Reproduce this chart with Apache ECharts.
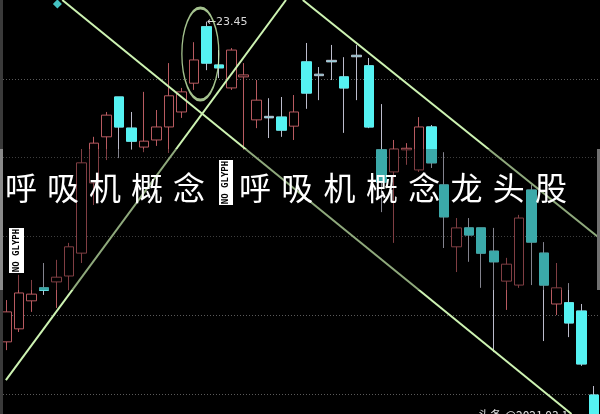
<!DOCTYPE html>
<html><head><meta charset="utf-8">
<script src="https://cdn.jsdelivr.net/npm/echarts@6/dist/echarts.min.js"></script>
<style>html,body{margin:0;padding:0;background:#000}#c{width:600px;height:414px}</style>
</head><body><div id="c"></div>
<script>
const categories = ['1','2','3','4','5','6','7','8','9','10','11','12','13','14','15','16','17','18','19','20','21','22','23','24','25','26','27','28','29','30','31','32','33','34','35','36','37','38','39','40','41','42','43','44','45','46','47','48'];
const opens  = [15.33,15.66,16.37,16.70,16.85,17.00,17.58,19.36,20.53,21.54,20.75,20.27,20.45,20.78,21.16,21.89,23.32,22.35,21.77,22.05,20.96,21.05,21.03,20.80,22.43,22.12,22.47,22.05,22.60,22.33,20.20,19.64,20.20,19.69,20.78,19.31,17.74,18.22,18.22,17.63,16.87,16.77,19.18,17.58,16.29,16.32,16.11,13.98];
const closes = [16.09,16.57,16.54,16.64,16.97,17.74,19.87,20.37,21.08,20.78,20.42,20.42,20.78,21.57,21.67,22.48,22.40,22.28,22.73,22.10,21.46,21.01,20.70,21.16,21.64,22.08,22.43,21.77,22.56,20.78,19.38,20.22,20.24,20.78,19.87,18.50,18.22,18.04,17.58,17.36,17.30,18.47,17.86,16.77,16.70,15.81,14.77,13.35];
const lows   = [15.12,15.58,16.09,16.52,16.19,16.64,17.33,18.80,19.94,19.99,20.20,20.14,20.30,20.12,21.01,21.72,22.22,22.02,21.72,20.20,20.75,20.50,20.53,20.45,21.24,21.46,21.97,20.63,21.46,20.75,18.62,17.84,19.82,19.64,19.74,17.71,17.10,17.36,16.70,15.07,16.14,16.70,16.77,15.35,16.01,15.45,14.72,13.22];
const highs  = [16.39,17.03,16.90,17.33,17.41,17.84,20.22,20.53,21.16,21.54,21.16,21.67,21.21,22.40,21.77,22.93,23.45,22.73,22.78,22.40,21.97,21.51,21.54,21.59,22.91,22.30,22.86,22.55,22.86,22.53,21.36,20.45,20.37,21.03,20.83,20.14,18.47,18.47,18.22,18.22,17.46,18.55,19.31,17.86,17.33,16.82,16.29,14.21];
const gridPrices = [22, 20, 18, 16, 14];
const peakIndex = 16, peakPrice = 23.45;
// hand-drawn trend lines (x in candle index units, y in price)
const trendLine1 = [[4.48, 24.0], [45.22, 13.5]];
const trendLine2 = [[-0.03, 14.36], [22.38, 24.0]];
const trendLine3 = [[23.72, 24.0], [47.47, 17.96]];
const circleMark = [[15.53, 22.63]];
const diamondMark = [[4.09, 23.90]];
const titleA = '呼吸机概念';
const titleB = '呼吸机概念龙头股';

const RED = '#b85a60', CYAN = '#55f2f2', WICK = '#bcbccc', GREEN = '#cdf3b2';

const allData = categories.map((c, i) => [opens[i], closes[i], lows[i], highs[i]]);
const bodyData = categories.map((c, i) => (closes[i] < opens[i] && opens[i] - closes[i] > 0.05)
  ? [opens[i], closes[i], closes[i], opens[i]] : '-');

const chart = echarts.init(document.getElementById('c'));
const graphics = [];
graphics.push({type:'rect', z:100, shape:{x:0,y:149,width:600,height:141}, style:{fill:'rgba(0,0,0,0.3)'}});
graphics.push({type:'rect', z:101, shape:{x:0,y:0,width:3,height:414}, style:{fill:'#3a3a3a'}});
graphics.push({type:'rect', z:101, shape:{x:0,y:149,width:3,height:141}, style:{fill:'#8a8a8a'}});
graphics.push({type:'rect', z:101, shape:{x:597,y:149,width:3,height:141}, style:{fill:'#707070'}});
const charStyle = {fill:'#fff', fontSize:32, fontFamily:'"Noto Sans CJK SC"', align:'center', verticalAlign:'middle'};
titleA.split('').forEach((ch, i) => {
  graphics.push({type:'text', z:110, style:Object.assign({text:ch, x:21 + 42*i, y:188}, charStyle)});
});
titleB.split('').forEach((ch, i) => {
  graphics.push({type:'text', z:110, style:Object.assign({text:ch, x:255 + 42.3*i, y:188}, charStyle)});
});
function noGlyph(x, y, w, h) {
  graphics.push({type:'rect', z:110, shape:{x:x,y:y,width:w,height:h}, style:{fill:'#fff'}});
  graphics.push({type:'text', z:111, x:x + w/2, y:y + h/2, rotation:Math.PI/2,
    style:{text:'NO GLYPH', x:0, y:0, fill:'#000', fontSize:9, fontWeight:'bold', fontFamily:'"DejaVu Sans Mono"', align:'center', verticalAlign:'middle'}});
}
noGlyph(219, 160, 14, 45);
noGlyph(9, 228, 15, 45);
graphics.push({type:'text', z:110, style:{text:'头条 @2021 03 1', x:478, y:409, fill:'#ddd', fontSize:12, fontFamily:'"Noto Sans CJK SC"', align:'left', verticalAlign:'top'}});

const trendStyle = {color: GREEN, width: 2};
chart.setOption({
  backgroundColor: '#000',
  animation: false,
  grid: {left: -6, right: 0, top: 0, bottom: 0},
  xAxis: [
    {type:'category', data: categories, boundaryGap: true, show: false},
    {type:'value', min: -0.5, max: 47.5, show: false}
  ],
  yAxis: [{type:'value', min: 13.5, max: 24, show: false, splitLine:{show:false}}],
  graphic: graphics,
  series: [
    {type:'candlestick', name:'k', data: allData, barWidth: 10, z: 3,
      itemStyle: {color:'#000', borderColor: RED, color0: CYAN, borderColor0: WICK, borderWidth: 1},
      markLine: {silent: true, symbol: 'none', label: {show: false}, z: 1,
        lineStyle: {color: '#5a5a5a', type: [1, 2], width: 1},
        data: gridPrices.map(p => ({yAxis: p}))},
      markPoint: {symbol: 'circle', symbolSize: 1, itemStyle: {color: 'transparent'},
        label: {show: true, position: 'right', distance: 0, formatter: '←{c}', color: '#d8d8d8', fontSize: 11, fontFamily: '"DejaVu Sans"', offset: [0, 0]},
        data: [{coord: [peakIndex, peakPrice], value: peakPrice.toFixed(2)}]}
    },
    {type:'candlestick', name:'body', data: bodyData, barWidth: 10, z: 4,
      itemStyle: {color: CYAN, borderColor: CYAN, color0: CYAN, borderColor0: CYAN, borderWidth: 1}},
    {type:'line', xAxisIndex: 1, data: trendLine1, symbol: 'none', lineStyle: trendStyle, z: 6},
    {type:'line', xAxisIndex: 1, data: trendLine2, symbol: 'none', lineStyle: trendStyle, z: 6},
    {type:'line', xAxisIndex: 1, data: trendLine3, symbol: 'none', lineStyle: trendStyle, z: 6},
    {type:'scatter', xAxisIndex: 1, data: circleMark, symbol: 'circle', symbolSize: [37, 92], z: 6,
      itemStyle: {color: 'rgba(0,0,0,0)', borderColor: GREEN, borderWidth: 2}},
    {type:'scatter', xAxisIndex: 1, data: diamondMark, symbol: 'diamond', symbolSize: [9, 9], z: 6,
      itemStyle: {color: CYAN}}
  ]
});
</script></body></html>
